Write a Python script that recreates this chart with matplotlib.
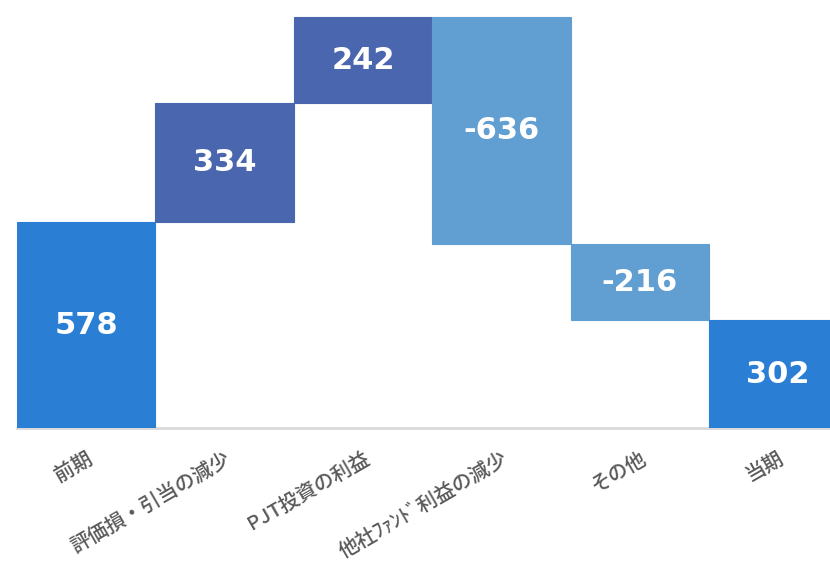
import numpy as np
import matplotlib.pyplot as plt

plt.rcParams['font.family'] = ['Noto Sans CJK JP', 'DejaVu Sans']

# ウォーターフォールのデータ
categories = ['前期', '評価損・引当の減少', 'PJT投資の利益', '他社ﾌｧﾝﾄﾞ利益の減少', 'その他', '当期']
changes = [578, 334, 242, -636, -216, 302]
kinds = ['total', 'up', 'up', 'down', 'down', 'total']

colors = {'total': '#2A7FD5', 'up': '#4A66AE', 'down': '#619ED1'}

bottoms = []
heights = []
running = 0
for v, k in zip(changes, kinds):
    if k == 'total':
        bottoms.append(0)
        heights.append(v)
        running = v
    else:
        start = running
        running += v
        bottoms.append(min(start, running))
        heights.append(abs(v))

fig = plt.figure(figsize=(8.3, 5.66), dpi=100)
ax = fig.add_axes([17 / 830, 138 / 566, 830.4 / 830, 428 / 566])

x = np.arange(len(categories))
for i in range(len(categories)):
    c = colors[kinds[i]]
    ax.bar(x[i], heights[i], bottom=bottoms[i], width=1.0, color=c,
           edgecolor=c, linewidth=0.8, zorder=2)
    ax.text(x[i], bottoms[i] + heights[i] / 2, str(changes[i]),
            ha='center', va='center', color='white', fontsize=22,
            fontweight='bold', family='DejaVu Sans', zorder=3)

ax.set_xlim(-0.5, len(categories) - 0.5)
ax.set_ylim(0, 1202)
ax.set_yticks([])
ax.set_xticks(x)
ax.set_xticklabels(categories, rotation=30, ha='right', va='top',
                   rotation_mode='anchor', fontsize=14.5, color='#595959',
                   fontweight='medium')
ax.tick_params(axis='x', length=0, pad=15)
for s in ['top', 'right', 'left']:
    ax.spines[s].set_visible(False)
ax.spines['bottom'].set_color('#D9D9D9')
ax.spines['bottom'].set_linewidth(2)
ax.spines['bottom'].set_zorder(1)

plt.savefig('out.png', dpi=100)
